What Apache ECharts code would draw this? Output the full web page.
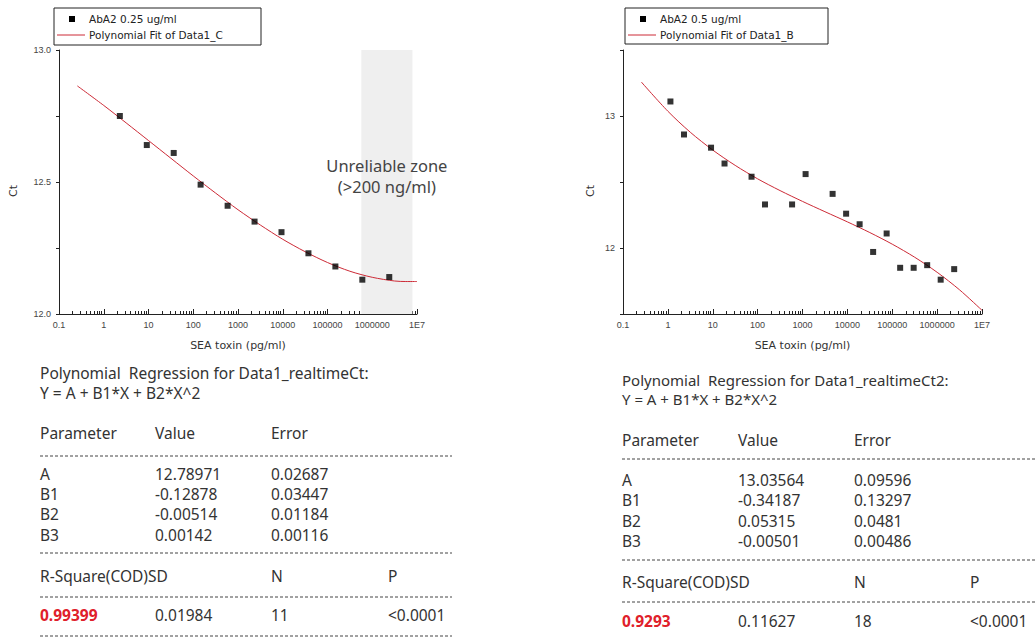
<!DOCTYPE html>
<html>
<head>
<meta charset="utf-8">
<title>SEA toxin Ct</title>
<script src="https://cdn.jsdelivr.net/npm/echarts@6/dist/echarts.min.js"></script>
<style>
    html, body { margin: 0; padding: 0; background: #fff; }
    #main { width: 1035px; height: 641px; }
</style>
</head>
<body>
<div id="main"></div>
<script>
// left panel: AbA2 0.25 ug/ml
var toxinLeft = [2.29, 9.16, 36.6, 146, 586, 2344, 9375, 37500, 150000, 600000, 2400000];
var ctLeft = [12.75, 12.64, 12.61, 12.49, 12.41, 12.35, 12.31, 12.23, 12.18, 12.13, 12.14];
var fitLeftX = [0.257, 1, 3.16, 10, 31.6, 100, 316, 1000, 3162, 10000, 31623, 100000, 316228, 1000000, 3162278, 5623413, 10000000];
var fitLeftY = [12.864, 12.790, 12.724, 12.657, 12.590, 12.523, 12.458, 12.395, 12.337, 12.283, 12.236, 12.195, 12.162, 12.139, 12.125, 12.123, 12.123];
var zoneLeft = [570000, 7900000];

// right panel: AbA2 0.5 ug/ml
var toxinRight = [1.14, 2.29, 9.16, 18.3, 73.2, 146, 586, 1172, 4688, 9375, 18750, 37500, 75000, 150000, 300000, 600000, 1200000, 2400000];
var ctRight = [13.11, 12.86, 12.76, 12.64, 12.54, 12.33, 12.33, 12.56, 12.41, 12.26, 12.18, 11.97, 12.11, 11.85, 11.85, 11.87, 11.76, 11.84];
var fitRightX = [0.257, 1, 3.16, 10, 31.6, 100, 316, 1000, 3162, 10000, 31623, 100000, 316228, 1000000, 3162278, 10000000];
var fitRightY = [13.257, 13.036, 12.877, 12.742, 12.626, 12.524, 12.435, 12.353, 12.275, 12.198, 12.117, 12.029, 11.930, 11.816, 11.683, 11.528];

// x axis ticks
var majorTicks = [0.1, 1, 10, 100, 1000, 10000, 100000, 1000000, 10000000];
var minorSteps = [2, 3, 4, 5, 6, 7, 8, 9];

// regression tables
var titleLeft = 'Polynomial  Regression for Data1_realtimeCt:\nY = A + B1*X + B2*X^2';
var titleRight = 'Polynomial  Regression for Data1_realtimeCt2:\nY = A + B1*X + B2*X^2';
var tableHeader = ['Parameter', 'Value', 'Error'];
var paramNames = ['A', 'B1', 'B2', 'B3'];
var valuesLeft = ['12.78971', '-0.12878', '-0.00514', '0.00142'];
var errorsLeft = ['0.02687', '0.03447', '0.01184', '0.00116'];
var valuesRight = ['13.03564', '-0.34187', '0.05315', '-0.00501'];
var errorsRight = ['0.09596', '0.13297', '0.0481', '0.00486'];
var statHeader = ['R-Square(COD)SD', '', 'N', 'P'];
var statsLeft = ['0.99399', '0.01984', '11', '<0.0001'];
var statsRight = ['0.9293', '0.11627', '18', '<0.0001'];

var RED = '#cc2a36';
var txtFont = '"Noto Sans", sans-serif';
var nameFont = '"DejaVu Sans", sans-serif';
var tickFont = '"Liberation Sans", Arial, sans-serif';

var minorTicks = [];
majorTicks.slice(0, -1).forEach(function (m) {
    minorSteps.forEach(function (s) { minorTicks.push(+(m * s).toPrecision(3)); });
});

function pairs(xs, ys) {
    return xs.map(function (x, i) { return [x, ys[i]]; });
}

function xAxisCfg(idx) {
    return {
        type: 'log', logBase: 10, gridIndex: idx,
        min: 0.1, max: 10000000,
        name: 'SEA toxin (pg/ml)', nameLocation: 'middle', nameGap: 26,
        nameTextStyle: { fontSize: 11, color: '#333', fontFamily: nameFont },
        axisLine: { lineStyle: { color: '#222', width: 1 } },
        axisTick: { inside: true, length: 5, customValues: majorTicks, lineStyle: { color: '#222' } },
        axisLabel: {
            fontSize: 9, color: '#444', margin: 6, fontFamily: tickFont,
            customValues: majorTicks,
            formatter: function (v) { return v >= 10000000 ? '1E7' : String(v); }
        },
        splitLine: { show: false }
    };
}

// overlay axis that only carries the log minor ticks
function xMinorCfg(idx) {
    return {
        type: 'log', logBase: 10, gridIndex: idx,
        min: 0.1, max: 10000000, position: 'bottom',
        axisLine: { show: false },
        axisTick: { show: true, inside: true, length: 3, customValues: minorTicks, lineStyle: { color: '#222' } },
        axisLabel: { show: false },
        splitLine: { show: false }
    };
}

function yAxisCfg(idx, min, max, step, gap, fmt) {
    return {
        type: 'value', gridIndex: idx, min: min, max: max, interval: step,
        name: 'Ct', nameLocation: 'middle', nameGap: gap,
        nameTextStyle: { fontSize: 11, color: '#333', fontFamily: nameFont, padding: [0, 0, 0, -18] },
        axisLine: { show: true, lineStyle: { color: '#222', width: 1 } },
        axisTick: { show: true, length: 3, lineStyle: { color: '#222' } },
        axisLabel: { fontSize: 9, color: '#444', margin: 8, fontFamily: tickFont, formatter: fmt },
        splitLine: { show: false }
    };
}

var graphics = [];

function legendGraphic(box, names) {
    // box: [left, top, width, height]
    var x = box[0], y = box[1];
    graphics.push({ type: 'rect', shape: { x: x, y: y, width: box[2], height: box[3] },
        style: { fill: '#fff', stroke: '#222', lineWidth: 1 }, z: 10 });
    graphics.push({ type: 'rect', shape: { x: x + 15, y: y + 8, width: 6, height: 6 },
        style: { fill: '#000' }, z: 11 });
    graphics.push({ type: 'line', shape: { x1: x + 3, y1: y + 27, x2: x + 31, y2: y + 27 },
        style: { stroke: RED, lineWidth: 1 }, z: 11 });
    [11, 27].forEach(function (dy, i) {
        graphics.push({ type: 'text', x: x + 35, y: y + dy, z: 11,
            style: { text: names[i], fontSize: 10.5, fontFamily: nameFont, fill: '#222', verticalAlign: 'middle' } });
    });
}

function tableGraphic(cols, rows, title, values, errors, stats, dashX) {
    function txt(x, y, s, c, bold) {
        graphics.push({ type: 'text', x: x, y: y, style: {
            text: s, fontSize: 15.5, lineHeight: 16, fontFamily: txtFont, fill: c || '#333',
            fontWeight: bold ? 'bold' : 'normal', verticalAlign: 'middle'
        } });
    }
    function dash(y) {
        graphics.push({ type: 'line', shape: { x1: dashX[0], y1: y, x2: dashX[1], y2: y },
            style: { stroke: '#444', lineWidth: 1, lineDash: [3, 2] } });
    }
    graphics.push({ type: 'text', x: cols[0], y: rows.title, style: {
        text: title, fontSize: rows.titleSize, lineHeight: rows.titleGap, fontFamily: txtFont, fill: '#333', verticalAlign: 'top'
    } });
    tableHeader.forEach(function (h, i) { txt(cols[i], rows.head, h); });
    dash(rows.dash[0]);
    paramNames.forEach(function (p, i) {
        txt(cols[0], rows.params[i], p);
        txt(cols[1], rows.params[i], values[i]);
        txt(cols[2], rows.params[i], errors[i]);
    });
    dash(rows.dash[1]);
    statHeader.forEach(function (h, i) { if (h) txt(cols[i], rows.statHead, h); });
    dash(rows.dash[2]);
    stats.forEach(function (s, i) {
        txt(cols[i], rows.stat, s, i === 0 ? '#e0202a' : '#333', i === 0);
    });
    if (rows.dash[3]) dash(rows.dash[3]);
}

legendGraphic([54, 8, 207, 37], ['AbA2 0.25 ug/ml', 'Polynomial Fit of Data1_C']);
legendGraphic([625, 8, 203, 36], ['AbA2 0.5 ug/ml', 'Polynomial Fit of Data1_B']);

tableGraphic([40, 155, 271, 388],
    { title: 363, titleGap: 20, titleSize: 15.5, head: 433, params: [474, 494, 514, 535], statHead: 576, stat: 615, dash: [456, 553, 597, 636] },
    titleLeft, valuesLeft, errorsLeft, statsLeft, [40, 452]);
tableGraphic([622, 738, 854, 970],
    { title: 370, titleGap: 19, titleSize: 15, head: 440, params: [480, 500, 521, 541], statHead: 582, stat: 621, dash: [459, 560, 602, 0] },
    titleRight, valuesRight, errorsRight, statsRight, [622, 1035]);

var chart = echarts.init(document.getElementById('main'), null, { renderer: 'svg' });

var option = {
    backgroundColor: '#fff',
    animation: false,
    grid: [
        { left: 59, top: 50, width: 358, height: 264 },
        { left: 623, top: 50, width: 359, height: 264 }
    ],
    xAxis: [xAxisCfg(0), xAxisCfg(1), xMinorCfg(0), xMinorCfg(1)],
    yAxis: [
        yAxisCfg(0, 12, 13, 0.25, 40, function (v) { return Math.round(v * 100) % 50 === 0 ? v.toFixed(1) : ''; }),
        yAxisCfg(1, 11.5, 13.5, 0.5, 27, function (v) { return Math.round(v * 10) % 10 === 0 ? String(v) : ''; })
    ],
    series: [
        {
            name: 'Polynomial Fit of Data1_C', type: 'line', xAxisIndex: 0, yAxisIndex: 0,
            data: pairs(fitLeftX, fitLeftY), smooth: 0.3, showSymbol: false, symbol: 'none',
            lineStyle: { color: RED, width: 1 }, itemStyle: { color: RED },
            markArea: {
                silent: true,
                itemStyle: { color: '#efefef' },
                label: {
                    show: true, position: 'inside', offset: [0, -6],
                    formatter: 'Unreliable zone\n(>200 ng/ml)',
                    fontSize: 16.5, lineHeight: 21, color: '#444', fontFamily: txtFont
                },
                data: [[{ xAxis: zoneLeft[0] }, { xAxis: zoneLeft[1] }]]
            },
            z: 2
        },
        {
            name: 'AbA2 0.25 ug/ml', type: 'scatter', xAxisIndex: 0, yAxisIndex: 0,
            data: pairs(toxinLeft, ctLeft), symbol: 'rect', symbolSize: 6,
            itemStyle: { color: '#000' }, z: 3
        },
        {
            name: 'Polynomial Fit of Data1_B', type: 'line', xAxisIndex: 1, yAxisIndex: 1,
            data: pairs(fitRightX, fitRightY), smooth: 0.3, showSymbol: false, symbol: 'none',
            lineStyle: { color: RED, width: 1 }, itemStyle: { color: RED }, z: 2
        },
        {
            name: 'AbA2 0.5 ug/ml', type: 'scatter', xAxisIndex: 1, yAxisIndex: 1,
            data: pairs(toxinRight, ctRight), symbol: 'rect', symbolSize: 6,
            itemStyle: { color: '#000' }, z: 3
        }
    ],
    graphic: graphics
};
chart.setOption(option);
</script>
</body>
</html>
